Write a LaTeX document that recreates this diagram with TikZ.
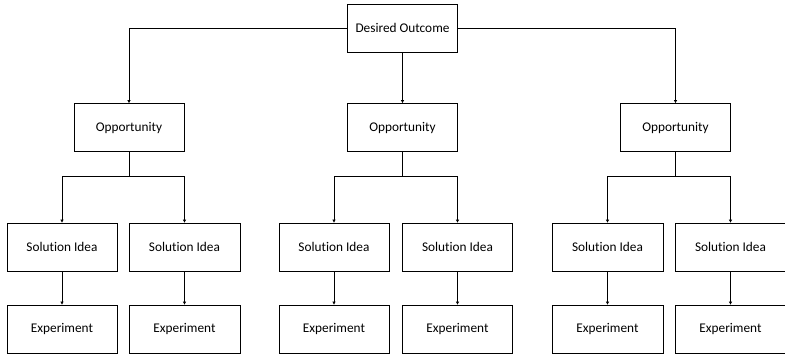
\documentclass[tikz,border=0pt]{standalone}
\usepackage{fontspec}
\setmainfont{Carlito}[Ligatures=CommonOff]
\usetikzlibrary{arrows.meta}
\begin{document}
\begin{tikzpicture}[x=1pt,y=-1pt,
  box/.style={draw=black,line width=0.8pt,minimum width=110pt,minimum height=48pt,
    inner sep=0pt,font=\fontsize{13.3}{15}\selectfont,text=black},
  wideb/.style={box,minimum width=111pt},
  link/.style={draw=black,line width=0.8pt},
  arr/.style={link,-{Triangle[length=3pt,width=3pt]}}]
\useasboundingbox (0,0) rectangle (785,355);
% root
\node[box] (root) at (402.5,28) {Desired Outcome};
% opportunities
\node[box] (o1) at (129,127.5) {Opportunity};
\node[box] (o2) at (402.5,127.5) {Opportunity};
\node[box] (o3) at (675.5,127.5) {Opportunity};
% solution ideas
\node[box] (s11) at (62,247) {Solution Idea};
\node[wideb] (s12) at (184.5,247) {Solution Idea};
\node[box] (s21) at (334,247) {Solution Idea};
\node[box] (s22) at (457.5,247) {Solution Idea};
\node[wideb] (s31) at (607.5,247) {Solution Idea};
\node[wideb] (s32) at (730.5,247) {Solution Idea};
% experiments
\node[box] (e11) at (62,329) {Experiment};
\node[wideb] (e12) at (184.5,329) {\raisebox{-1pt}{Experiment}};
\node[box] (e21) at (334,329) {Experiment};
\node[box] (e22) at (457.5,329) {Experiment};
\node[wideb] (e31) at (607.5,329) {Experiment};
\node[wideb] (e32) at (730.5,329) {\raisebox{1pt}{Experiment}};
% branch points below each opportunity
\coordinate (j1) at (129,176.7);
\coordinate (j2) at (402.5,176.7);
\coordinate (j3) at (675.5,176.7);
% root to opportunities
\draw[arr] (root.west) -| (o1.north);
\draw[arr] (root.south) -- (o2.north);
\draw[arr] (root.east) -| (o3.north);
% opportunities to solution ideas
\foreach \o/\j/\a/\b in {o1/j1/s11/s12, o2/j2/s21/s22, o3/j3/s31/s32}{
  \draw[link] (\o.south) -- (\j);
  \draw[arr] (\j) -| (\a.north);
  \draw[arr] (\j) -| (\b.north);
}
% solution ideas to experiments
\foreach \s/\e in {s11/e11, s12/e12, s21/e21, s22/e22, s31/e31, s32/e32}{
  \draw[arr] (\s.south) -- (\e.north);
}
\end{tikzpicture}
\end{document}
